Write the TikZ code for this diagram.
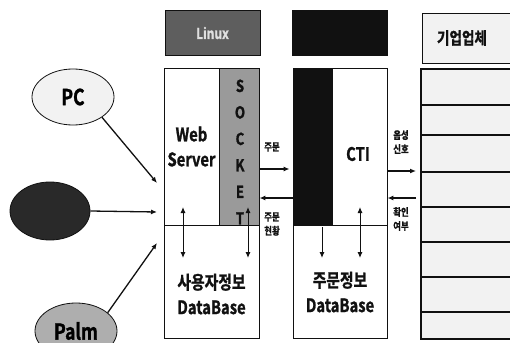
\documentclass[tikz,border=0pt]{standalone}
\usepackage{fontspec}
\setmainfont{Noto Sans CJK KR}[BoldFont={* Bold}, BoldFeatures={FakeBold=1.2}, FakeStretch=0.8]
\definecolor{ink}{HTML}{111111}
\definecolor{dot}{HTML}{F2F2F2}
\definecolor{sockgray}{HTML}{9A9A9A}
\definecolor{linuxgray}{HTML}{5E5E5E}
\usetikzlibrary{positioning, arrows.meta, shapes.geometric}

\begin{document}
\begin{tikzpicture}[x=1pt, y=-1pt,
  client/.style={ellipse, draw=ink, line width=0.8pt, inner sep=0pt,
                 minimum width=82pt, minimum height=56pt,
                 font=\fontsize{22}{23}\selectfont\bfseries},
  box/.style={draw=ink, line width=0.9pt, inner sep=0pt, fill=white},
  head/.style={box, minimum width=95pt, minimum height=45pt,
               font=\fontsize{15}{16}\selectfont\bfseries},
  txt/.style={align=center, inner sep=0pt, text=ink,
              font=\fontsize{18.5}{25}\selectfont\bfseries},
  tag/.style={align=center, inner sep=0pt, text=ink,
              font=\fontsize{10.5}{14}\selectfont\bfseries},
  arr/.style={draw=ink, line width=1.3pt, -{Latex[length=6pt, width=5pt]}},
  both/.style={arr, {Latex[length=6pt, width=5pt]}-{Latex[length=6pt, width=5pt]}},
]
\clip (0,0) rectangle (510,342);
\fill[white] (0,0) rectangle (510,342);

% clients
\node[client, fill=dot] (pc) at (73,97) {PC};
\node[client, fill=ink!90, minimum width=80pt, minimum height=58pt] (mob) at (50,211) {};
\node[client, fill=sockgray!80] (palm) at (76,331) {Palm};

% headers
\node[head, fill=linuxgray, text=white!75!gray] (linux) at (212.5,33) {Linux};
\node[head, fill=ink] (ctihead) at (340,33) {};
\draw[box, fill=dot] (422,13) rectangle (530,63);
\node[txt, font=\fontsize{17}{18}\selectfont\bfseries] (corp) at (462,38) {기업업체};

% web server side
\node[box, minimum width=55pt, minimum height=157pt] (web) at (191.5,146.5) {};
\node[box, fill=sockgray, minimum width=40pt, minimum height=157pt] (sock) at (239,146.5) {};
\node[box, minimum width=95pt, minimum height=113pt] (userdb) at (211.5,281.5) {};
\node[txt] (webtxt) at (web.center) {Web\\Server};
\node[txt, font=\fontsize{16.5}{26.5}\selectfont\bfseries] (socktxt) at (240,152) {S\\O\\C\\K\\E\\T};
\node[txt] (userdbtxt) at (211.5,294) {사용자정보\\DataBase};

% cti side
\node[box, fill=ink, minimum width=39pt, minimum height=157pt] (blk) at (312.5,146.5) {};
\node[box, minimum width=55pt, minimum height=157pt] (cti) at (359.5,146.5) {};
\node[box, minimum width=94pt, minimum height=113pt] (orderdb) at (340,281.5) {};
\node[txt] (ctitxt) at (358,154) {CTI};
\node[txt] (orderdbtxt) at (340,292) {주문정보\\DataBase};

% companies
\node[box, fill=dot, line width=2.2pt, minimum width=110pt, minimum height=270pt, anchor=north west] (firms) at (420,68) {};
\foreach \y in {105,135,172,207,242,277,312}
  \draw[ink, line width=1.8pt] (firms.west |- 0,\y) -- (firms.east |- 0,\y);

% client links
\coordinate (inpc) at (157,183);
\coordinate (inmob) at (157,212);
\coordinate (inpalm) at (157,243);
\draw[arr] (pc.-35) -- (inpc);
\draw[arr] (mob.east) -- (inmob);
\draw[arr] (palm.30) -- (inpalm);

% order flow
\draw[arr] (sock.east |- 0,169) -- ([xshift=-3pt]blk.west |- 0,169);
\draw[arr] (blk.west |- 0,198) -- (sock.east |- 0,198);
\node[tag] (order) at (272,147) {주문};
\node[tag] (status) at (272,224) {주문\\현황};
\draw[arr] (cti.east |- 0,171) -- ([xshift=-4pt]firms.west |- 0,171);
\draw[arr] ([xshift=-4pt]firms.west |- 0,198) -- (cti.east |- 0,198);
\node[tag] (voice) at (401,142) {음성\\신호};
\node[tag] (check) at (401,219) {확인\\여부};

% database links
\coordinate (wa) at (183,207);  \coordinate (wb) at (183,258);
\coordinate (sa) at (248,207);  \coordinate (sb) at (248,258);
\coordinate (ka) at (322,227);  \coordinate (kb) at (322,258);
\coordinate (ca) at (360,207);  \coordinate (cb) at (360,258);
\draw[both, line width=1pt] (wa) -- (wb);
\draw[both, line width=1pt] (sa) -- (sb);
\draw[arr, line width=1pt] (ka) -- (kb);
\draw[both, line width=1pt] (ca) -- (cb);
\end{tikzpicture}
\end{document}
